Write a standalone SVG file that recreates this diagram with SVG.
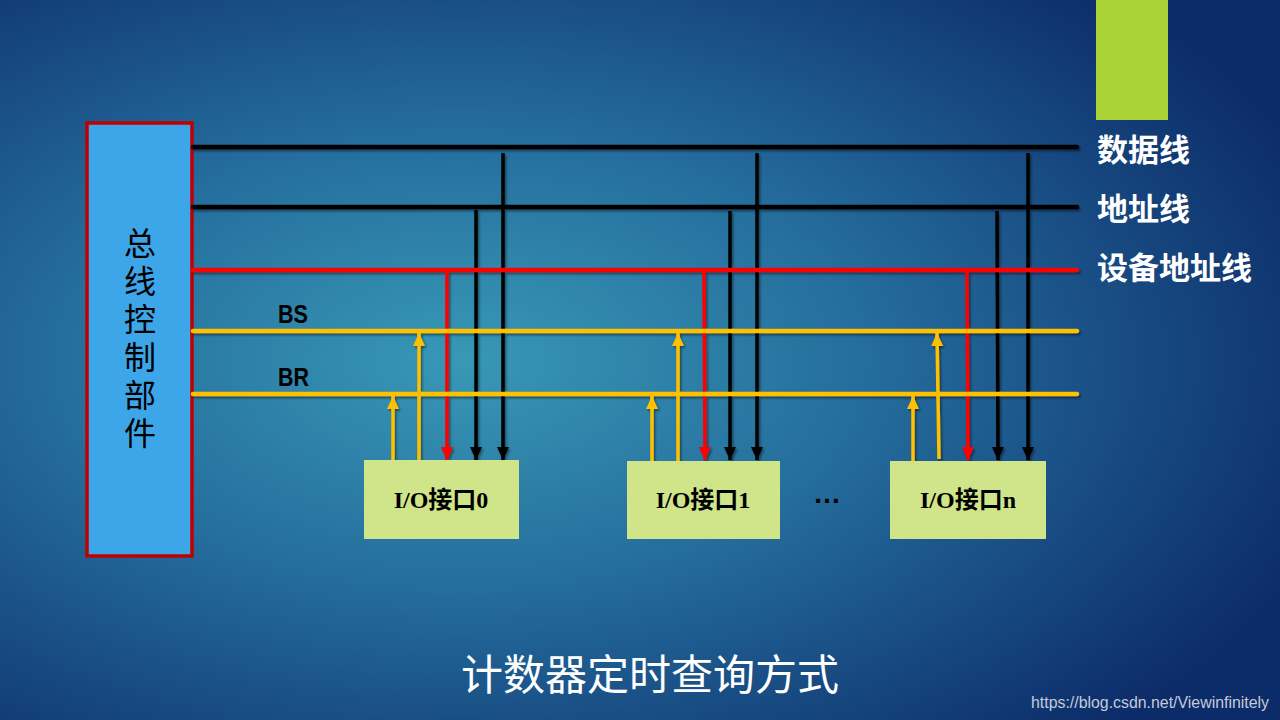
<svg xmlns="http://www.w3.org/2000/svg" width="1280" height="720" viewBox="0 0 1280 720">
<defs>
<radialGradient id="bg" cx="0.36" cy="0.5" r="0.72" gradientUnits="objectBoundingBox">
<stop offset="0" stop-color="#3898b6"/>
<stop offset="0.45" stop-color="#246c9c"/>
<stop offset="1" stop-color="#0c2b69"/>
</radialGradient>
<filter id="sh" x="-5%" y="-20%" width="110%" height="140%">
<feDropShadow dx="1.5" dy="2" stdDeviation="1.2" flood-color="#000" flood-opacity="0.45"/>
</filter>
<marker id="ak" markerUnits="userSpaceOnUse" markerWidth="14" markerHeight="14" viewBox="0 0 14 14" refX="13" refY="7" orient="auto">
<path d="M0,1 L13,7 L0,13 Z" fill="#000"/>
</marker>
<marker id="ar" markerUnits="userSpaceOnUse" markerWidth="14" markerHeight="14" viewBox="0 0 14 14" refX="13" refY="7" orient="auto">
<path d="M0,1 L13,7 L0,13 Z" fill="#ff0000"/>
</marker>
<marker id="ay" markerUnits="userSpaceOnUse" markerWidth="14" markerHeight="14" viewBox="0 0 14 14" refX="13" refY="7" orient="auto">
<path d="M0,1 L13,7 L0,13 Z" fill="#ffc000"/>
</marker>
<style>
.bus{fill:none;stroke-width:4.5;stroke-linecap:round}
.k{stroke:#000}
.r{stroke:#ff0000}
.y{stroke:#ffc000}
.dn{fill:none;stroke-width:3.5}
.io{fill:#d0e58a}
.iot{font-family:"Liberation Serif","Noto Sans CJK SC",serif;font-weight:bold;font-size:24px;fill:#000;text-anchor:middle}
.lbl{font-family:"Noto Sans CJK SC",sans-serif;font-weight:bold;font-size:31px;fill:#fff}
.bl{font-family:"Liberation Sans","Noto Sans",sans-serif;font-weight:bold;font-size:26px;fill:#000}
</style>
</defs>
<rect width="1280" height="720" fill="url(#bg)"/>
<rect x="1096" y="0" width="72" height="120" fill="#a9d334"/>

<g id="controller">
<rect x="87" y="123" width="105" height="433" fill="#3ca6e9" stroke="#c00000" stroke-width="3.5"/>
<text x="140" y="341" writing-mode="vertical-rl" text-anchor="middle" letter-spacing="6" font-family="Noto Sans CJK SC, sans-serif" font-size="32" fill="#000">总线控制部件</text>
</g>

<g id="connectors" filter="url(#sh)">
<!-- group 0 -->
<line class="dn y" x1="393" y1="462" x2="393" y2="396" marker-end="url(#ay)"/>
<line class="dn y" x1="419" y1="462" x2="419" y2="333" marker-end="url(#ay)"/>
<line class="dn r" x1="447" y1="271" x2="447" y2="460" marker-end="url(#ar)"/>
<line class="dn k" x1="476" y1="210" x2="476" y2="460" marker-end="url(#ak)"/>
<line class="dn k" x1="503" y1="153" x2="503" y2="460" marker-end="url(#ak)"/>
<!-- group 1 -->
<line class="dn y" x1="652" y1="462" x2="652" y2="396" marker-end="url(#ay)"/>
<line class="dn y" x1="678" y1="462" x2="678" y2="333" marker-end="url(#ay)"/>
<line class="dn r" x1="704" y1="271" x2="705" y2="460" marker-end="url(#ar)"/>
<line class="dn k" x1="730" y1="211" x2="730" y2="460" marker-end="url(#ak)"/>
<line class="dn k" x1="757" y1="153" x2="757" y2="460" marker-end="url(#ak)"/>
<!-- group n -->
<line class="dn y" x1="913" y1="462" x2="913" y2="396" marker-end="url(#ay)"/>
<line class="dn y" x1="939" y1="459" x2="937" y2="333" marker-end="url(#ay)"/>
<line class="dn r" x1="967" y1="271" x2="968" y2="460" marker-end="url(#ar)"/>
<line class="dn k" x1="997" y1="211" x2="998" y2="460" marker-end="url(#ak)"/>
<line class="dn k" x1="1028" y1="153" x2="1028" y2="460" marker-end="url(#ak)"/>
<!-- buses -->
<line class="bus k" x1="193" y1="147" x2="1077" y2="147"/>
<line class="bus k" x1="193" y1="207" x2="1077" y2="207"/>
<line class="bus r" x1="193" y1="270" x2="1077" y2="270"/>
<line class="bus y" x1="193" y1="331" x2="1077" y2="331"/>
<line class="bus y" x1="193" y1="394" x2="1077" y2="394"/>
</g>

<g id="bus-labels">
<text class="bl" x="278" y="323" textLength="30" lengthAdjust="spacingAndGlyphs">BS</text>
<text class="bl" x="278" y="386" textLength="31" lengthAdjust="spacingAndGlyphs">BR</text>
<text class="lbl" x="1097" y="161">数据线</text>
<text class="lbl" x="1097" y="220">地址线</text>
<text class="lbl" x="1097" y="279">设备地址线</text>
</g>

<g id="io0">
<rect class="io" x="364" y="460" width="155" height="79"/>
<text class="iot" x="441" y="508">I/O接口0</text>
</g>
<g id="io1">
<rect class="io" x="627" y="461" width="153" height="78"/>
<text class="iot" x="703" y="508">I/O接口1</text>
</g>
<g id="ellipsis">
<text x="827" y="503" font-family="Liberation Sans, sans-serif" font-weight="bold" font-size="28" fill="#000" text-anchor="middle">…</text>
</g>
<g id="ion">
<rect class="io" x="890" y="461" width="156" height="78"/>
<text class="iot" x="968" y="508">I/O接口n</text>
</g>

<g id="title">
<text x="650" y="690" font-family="Noto Sans CJK SC, sans-serif" font-size="42" fill="#fff" text-anchor="middle">计数器定时查询方式</text>
</g>
<text x="1031" y="708" font-family="Liberation Sans, sans-serif" font-size="16" fill="#c3cbd9" textLength="238" lengthAdjust="spacingAndGlyphs">https://blog.csdn.net/Viewinfinitely</text>
</svg>
